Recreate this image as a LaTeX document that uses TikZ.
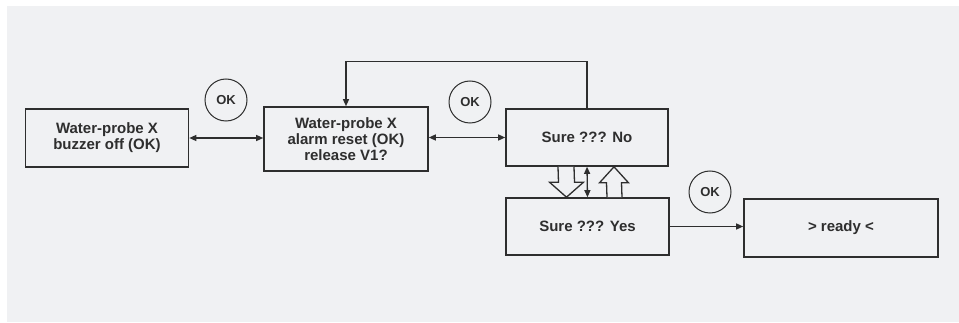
\documentclass[tikz,border=0pt]{standalone}
\usepackage{fontspec}
\setmainfont{Liberation Sans}
\definecolor{panelGray}{HTML}{F0F1F3}
\definecolor{inkDark}{HTML}{2E2E2E}
\usetikzlibrary{calc, arrows.meta}
\tikzset{
  menuBox/.style={draw=inkDark, line width=1.6pt, fill=panelGray, minimum width=163pt,
    minimum height=58pt, align=center, inner sep=2pt, text=inkDark,
    font=\fontsize{15}{16}\selectfont\bfseries},
  okMark/.style={circle, draw=inkDark, line width=1pt, minimum size=42pt, inner sep=0pt,
    text=inkDark, font=\fontsize{13}{13}\selectfont\bfseries},
  link/.style={draw=inkDark, line width=1.3pt},
  hollow/.style={draw=inkDark, line width=1.3pt, fill=panelGray, line join=miter},
  tip/.style={-{Triangle[length=7pt,width=6pt]}},
  tips/.style={{Triangle[length=7pt,width=6pt]}-{Triangle[length=7pt,width=6pt]}}
}

\begin{document}
\begin{tikzpicture}[x=1pt, y=-1pt]
  % panel
  \fill[white] (0,0) rectangle (959,323);
  \fill[panelGray] (7,6) rectangle (959,322);
  \useasboundingbox (0,0) rectangle (959,323);

  % menu states
  \node[menuBox] (buzz) at (107,138) {Water-probe X\\buzzer off (OK)};
  \node[menuBox, minimum width=164pt, minimum height=64pt] (reset) at (346,139)
    {Water-probe X\\alarm reset (OK)\\release V1?};
  \node[menuBox, minimum width=162pt, minimum height=57pt] (no) at (587,137.5) {Sure ??? No};
  \node[menuBox, minimum height=57pt] (yes) at (587.5,226.5) {Sure ??? Yes};
  \node[menuBox, minimum width=194pt] (ready) at (841,228) {> ready <};

  % key marks
  \node[okMark] (okA) at (226,100) {OK};
  \node[okMark] (okB) at (470,102) {OK};
  \node[okMark] (okC) at (710,192) {OK};

  % connectors
  \draw[link, tips] (buzz.east) -- (buzz.east -| reset.west);
  \draw[link, tips] (reset.east |- no.west) -- (no.west);
  \draw[link, tip] (no.north) -- ++(0,-47) -| (reset.north);
  \draw[link, tips] (no.south) -- (yes.north);
  \draw[link, tip] (yes.east) -- (yes.east -| ready.west);

  % block arrows between No and Yes
  \coordinate (dnTop) at ($(no.south)+(-21,0)$);
  \coordinate (dnTip) at ($(yes.north)+(-21,0)$);
  \draw[hollow] ($(dnTop)+(-8,0)$) -- ($(dnTip)+(-8,-15)$) -- ($(dnTip)+(-17,-15)$)
    -- (dnTip) -- ($(dnTip)+(17,-15)$) -- ($(dnTip)+(8,-15)$) -- ($(dnTop)+(8,0)$);
  \coordinate (upTip) at ($(no.south)+(27,0)$);
  \coordinate (upBase) at ($(yes.north)+(27,0)$);
  \draw[hollow] ($(upBase)+(-7.5,0)$) -- ($(upTip)+(-7.5,16)$) -- ($(upTip)+(-14.5,16)$)
    -- (upTip) -- ($(upTip)+(14.5,16)$) -- ($(upTip)+(7.5,16)$) -- ($(upBase)+(7.5,0)$);
\end{tikzpicture}
\end{document}
